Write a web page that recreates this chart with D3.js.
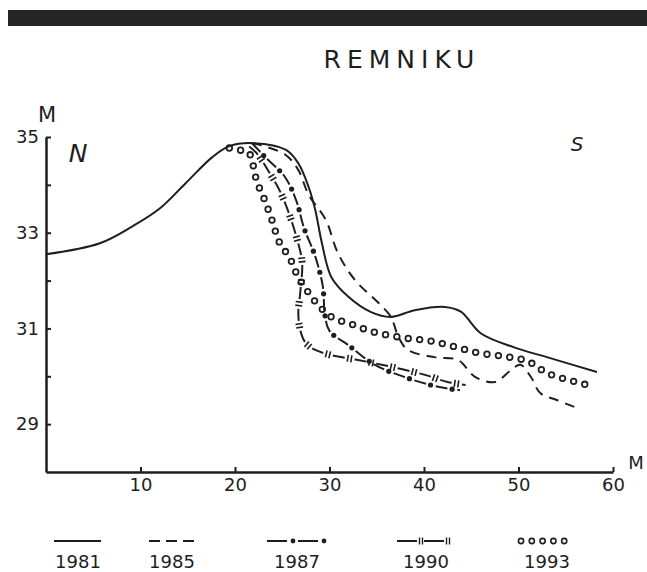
<!DOCTYPE html>
<html><head><meta charset="utf-8">
<script src="https://cdn.jsdelivr.net/npm/d3@7"></script>
<style>body{margin:0;background:#fff}svg{display:block}text{font-family:"DejaVu Sans",sans-serif;fill:#1e1e1e}</style>
</head><body>
<script>
// ---- data (distance in m, elevation in m) ----
const years = ["1981","1985","1987","1990","1993"];
const d1981 = [[0,32.55],[5.7,32.78],[9.2,33.14],[12,33.5],[14.8,34.04],[17.6,34.58],[19.4,34.81],[22,34.87],[25.4,34.73],[26.7,34.45],[27.8,33.95],[28.5,33.47],[29.2,32.78],[30.2,32.07],[32,31.66],[34.4,31.34],[36.5,31.24],[39,31.38],[42.2,31.45],[43.9,31.35],[46,30.9],[49.6,30.6],[53,30.4],[58.3,30.09]];
const d1985 = [[21.8,34.87],[22.7,34.83],[25.4,34.62],[26.7,34.31],[27.8,33.79],[29.6,33.27],[30.9,32.57],[32.7,32.01],[35.2,31.53],[36.5,31.24],[37.3,30.82],[38.3,30.55],[41.1,30.4],[43.6,30.34],[45.4,29.99],[47.5,29.88],[49.2,30.13],[50.2,30.24],[51.3,29.99],[52.3,29.65],[54.1,29.5],[55.9,29.36]];
const d1987 = [[21.8,34.87],[23.2,34.58],[25.3,34.16],[26.5,33.66],[27.3,33.1],[28.5,32.5],[29.3,31.87],[29.5,31.3],[30,30.95],[32,30.65],[34.8,30.24],[38.3,29.96],[41.5,29.78],[43.8,29.71]];
const d1990 = [[21.5,34.8],[22.3,34.66],[23.6,34.27],[24.8,33.85],[25.7,33.41],[26.5,32.91],[27.1,32.39],[26.9,31.74],[26.7,31.32],[26.9,30.97],[27.5,30.69],[28.5,30.55],[30.2,30.44],[33,30.34],[36.5,30.2],[40.1,30.03],[42.5,29.88],[44.4,29.82]];
const d1993 = [[19.4,34.77],[20.4,34.73],[21.4,34.69],[21.8,34.5],[22.3,34.08],[23.1,33.7],[23.9,33.27],[24.7,32.8],[25.8,32.47],[26.7,32.07],[28.1,31.66],[28.8,31.49],[30.2,31.24],[32.3,31.09],[34.6,30.93],[38,30.8],[40.6,30.74],[43.4,30.61],[45.7,30.49],[48.3,30.42],[50.6,30.34],[51.7,30.24],[52.8,30.09],[54.1,29.99],[56.5,29.86],[58,29.78]];
const xTicks = [10,20,30,40,50,60];
const yTicks = [29,30,31,32,33,34,35];
const yLabels = [29,31,33,35];
const title = "REMNIKU";

const W = 647, H = 572;
const svg = d3.select("body").append("svg").attr("width", W).attr("height", H);
svg.append("rect").attr("width", W).attr("height", H).attr("fill", "#fff");
svg.append("rect").attr("x", 8).attr("y", 10).attr("width", W - 8).attr("height", 16).attr("fill", "#262626");

const x = d3.scaleLinear().domain([0, 60]).range([46, 613]);
const y = d3.scaleLinear().domain([28, 35]).range([472, 137]);

svg.append("text").attr("x", 402).attr("y", 68).attr("text-anchor", "middle")
  .attr("font-size", 25).attr("letter-spacing", 6).text(title);

// axes
const gx = svg.append("g").attr("transform", `translate(0,${y(28)})`)
  .call(d3.axisBottom(x).tickValues(xTicks).tickSizeInner(-5).tickSizeOuter(0).tickPadding(5).tickFormat(d3.format("d")));
const gy = svg.append("g").attr("transform", `translate(${x(0)},0)`)
  .call(d3.axisLeft(y).tickValues(yTicks).tickSizeInner(-5).tickSizeOuter(0).tickPadding(7)
    .tickFormat(d => yLabels.includes(d) ? d : ""));
[gx, gy].forEach(g => {
  g.select(".domain").attr("stroke", "#1e1e1e").attr("stroke-width", 2.5);
  g.selectAll(".tick line").attr("stroke", "#1e1e1e").attr("stroke-width", 2);
  g.selectAll(".tick text").attr("font-size", 18).attr("fill", "#1e1e1e").attr("font-family", "DejaVu Sans, sans-serif");
});
gx.selectAll(".tick text").attr("dy", "0.8em");

svg.append("text").attr("x", 47).attr("y", 122).attr("text-anchor", "middle").attr("font-size", 21).text("M");
svg.append("text").attr("x", 636).attr("y", 469).attr("text-anchor", "middle").attr("font-size", 18).text("M");
svg.append("text").attr("x", 78).attr("y", 162).attr("text-anchor", "middle").attr("font-size", 25).attr("font-style", "italic").text("N");
svg.append("text").attr("x", 577).attr("y", 151).attr("text-anchor", "middle").attr("font-size", 20).attr("font-style", "italic").text("S");

const line = d3.line().x(d => x(d[0])).y(d => y(d[1])).curve(d3.curveCatmullRom.alpha(0.5));
const ink = "#1e1e1e";

function markersAlong(pathNode, start, step, fn) {
  const L = pathNode.getTotalLength();
  for (let s = start; s < L; s += step) {
    const p = pathNode.getPointAtLength(s);
    const q = pathNode.getPointAtLength(Math.min(L, s + 0.5));
    const ang = Math.atan2(q.y - p.y, q.x - p.x) * 180 / Math.PI;
    fn(p, ang);
  }
}

// 1981 solid
svg.append("path").datum(d1981).attr("d", line).attr("fill", "none").attr("stroke", ink).attr("stroke-width", 2);
// 1985 dashed
svg.append("path").datum(d1985).attr("d", line).attr("fill", "none").attr("stroke", ink).attr("stroke-width", 2).attr("stroke-dasharray", "10 7");
// 1987 dash-dot
const p87 = svg.append("path").datum(d1987).attr("d", line).attr("fill", "none").attr("stroke", ink).attr("stroke-width", 2).attr("stroke-dasharray", "12 10");
markersAlong(p87.node(), 17, 22, (p) => svg.append("circle").attr("cx", p.x).attr("cy", p.y).attr("r", 2.6).attr("fill", ink));
// 1990 dash with double bars
const p90 = svg.append("path").datum(d1990).attr("d", line).attr("fill", "none").attr("stroke", ink).attr("stroke-width", 2).attr("stroke-dasharray", "12 10");
markersAlong(p90.node(), 17, 22, (p, a) => {
  const g = svg.append("g").attr("transform", `translate(${p.x},${p.y}) rotate(${a})`);
  [-1.8, 1.8].forEach(o => g.append("line").attr("x1", o).attr("x2", o).attr("y1", -3.5).attr("y2", 3.5).attr("stroke", ink).attr("stroke-width", 1.6));
});
// 1993 open circles
const p93 = svg.append("path").datum(d1993).attr("d", line).attr("fill", "none").attr("stroke", "none");
markersAlong(p93.node(), 0, 11.5, (p) => svg.append("circle").attr("cx", p.x).attr("cy", p.y).attr("r", 2.8).attr("fill", "none").attr("stroke", ink).attr("stroke-width", 1.8));

// legend
const lg = [
  {x0: 54, x1: 101, lx: 78},
  {x0: 149, x1: 194, lx: 172},
  {x0: 267, x1: 326, lx: 297},
  {x0: 397, x1: 450, lx: 426},
  {x0: 519, x1: 566, lx: 547}
];
const ly = 541;
years.forEach((yr, i) => {
  const o = lg[i];
  svg.append("text").attr("x", o.lx).attr("y", 568).attr("text-anchor", "middle").attr("font-size", 18).text(yr);
  if (i === 0) svg.append("line").attr("x1", o.x0).attr("x2", o.x1).attr("y1", ly).attr("y2", ly).attr("stroke", ink).attr("stroke-width", 2);
  if (i === 1) svg.append("line").attr("x1", o.x0).attr("x2", o.x1).attr("y1", ly).attr("y2", ly).attr("stroke", ink).attr("stroke-width", 2).attr("stroke-dasharray", "11 6");
  if (i === 2) {
    svg.append("line").attr("x1", o.x0).attr("x2", o.x1).attr("y1", ly).attr("y2", ly).attr("stroke", ink).attr("stroke-width", 2).attr("stroke-dasharray", "20 11");
    [293, 324].forEach(cx => svg.append("circle").attr("cx", cx).attr("cy", ly).attr("r", 2.4).attr("fill", ink));
  }
  if (i === 3) {
    svg.append("line").attr("x1", o.x0).attr("x2", o.x1).attr("y1", ly).attr("y2", ly).attr("stroke", ink).attr("stroke-width", 2).attr("stroke-dasharray", "20 7");
    [421, 448].forEach(cx => [-1.5, 1.5].forEach(d => svg.append("line").attr("x1", cx + d).attr("x2", cx + d).attr("y1", ly - 3.5).attr("y2", ly + 3.5).attr("stroke", ink).attr("stroke-width", 1.4)));
  }
  if (i === 4) {
    d3.range(5).forEach(k => svg.append("circle").attr("cx", o.x0 + 2 + k * 10.8).attr("cy", ly).attr("r", 2.6).attr("fill", "none").attr("stroke", ink).attr("stroke-width", 1.6));
  }
});
</script>
</body></html>
